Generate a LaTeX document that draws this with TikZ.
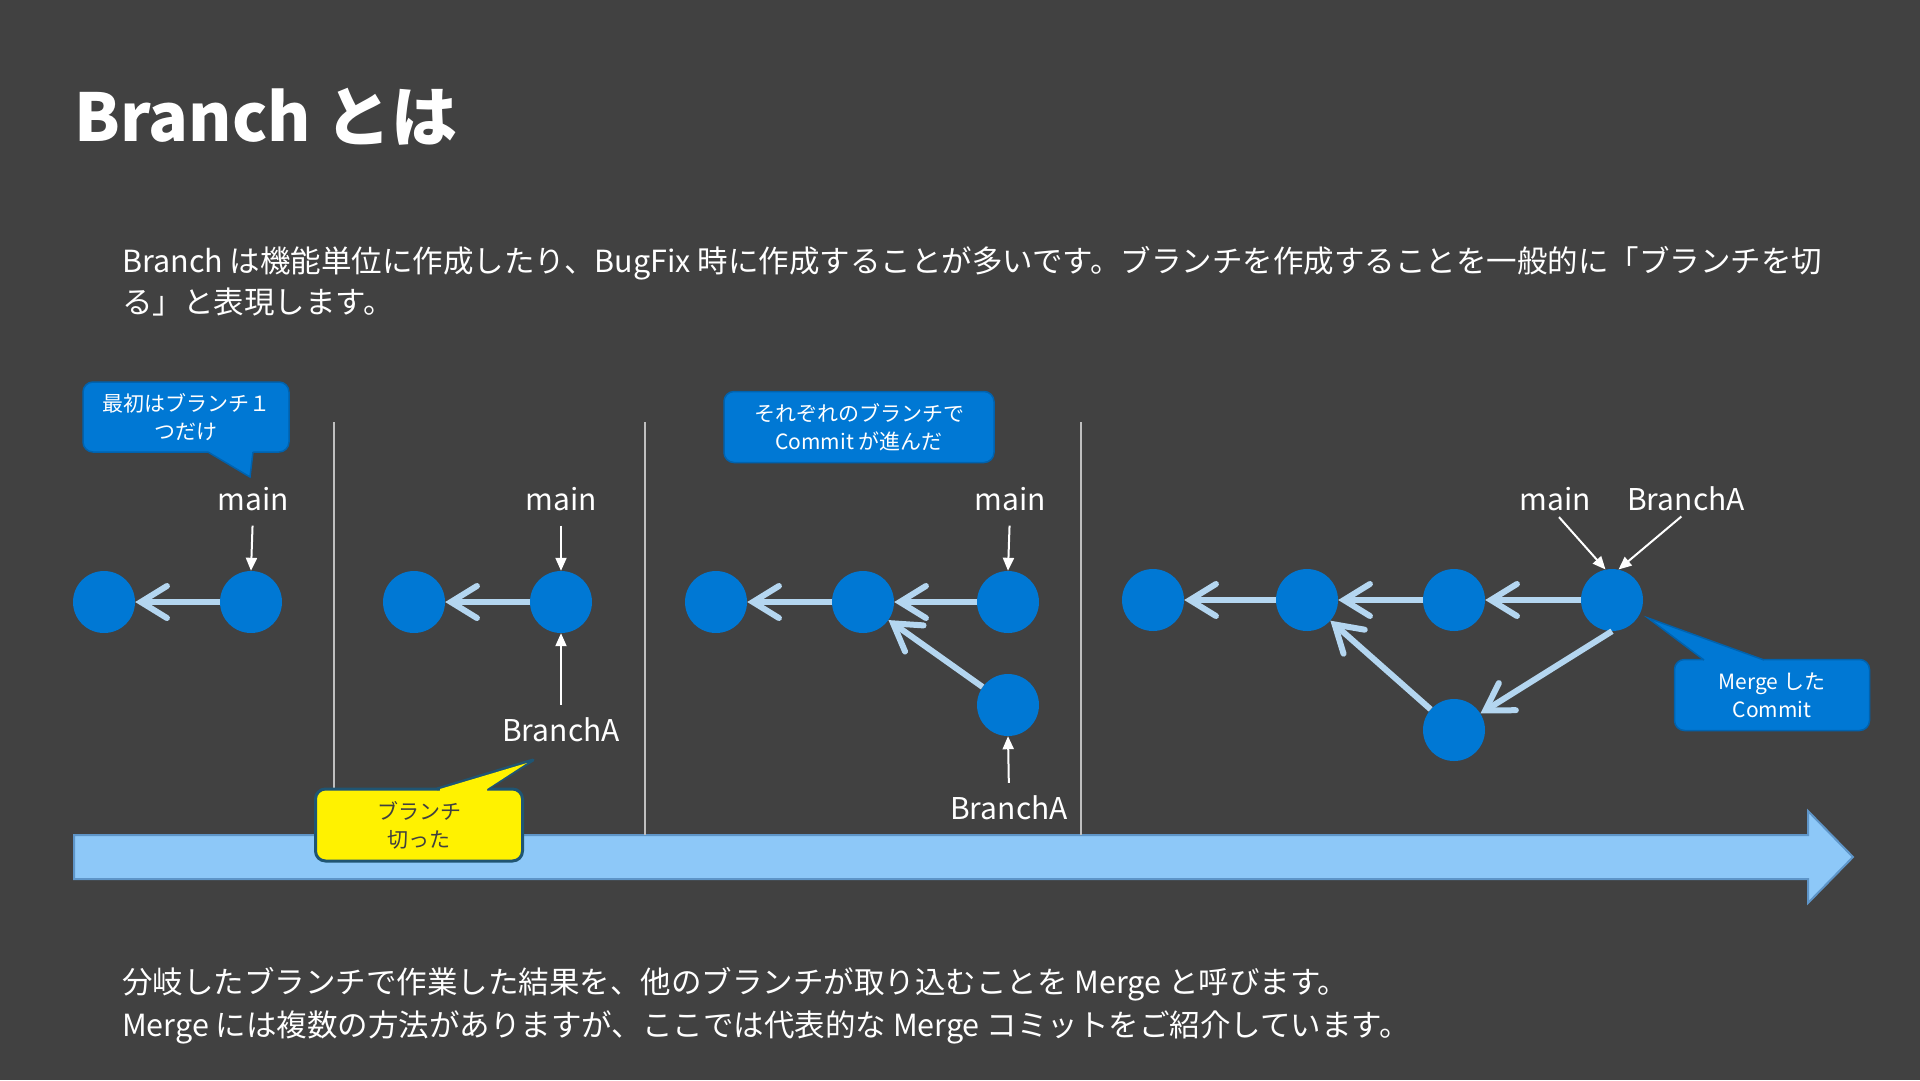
\documentclass[tikz,border=0pt]{standalone}
\usepackage{fontspec}
\setmainfont{Noto Sans CJK JP}
\usetikzlibrary{arrows.meta}
\definecolor{bg}{HTML}{414141}
\definecolor{cblue}{HTML}{0078D4}
\definecolor{cblueb}{HTML}{0062AE}
\definecolor{clink}{HTML}{B4D6F0}
\definecolor{tline}{HTML}{8DC8F8}
\definecolor{tlineb}{HTML}{5E95C8}
\definecolor{sepc}{HTML}{BFBFBF}
\definecolor{yelb}{HTML}{1F5573}
\definecolor{ytext}{HTML}{404040}
\begin{document}
\begin{tikzpicture}[x=1pt,y=-1pt,
  commit/.style={circle,fill=cblue,minimum size=62pt,inner sep=0pt},
  link/.style={draw=clink,line width=6pt,-{Straight Barb[length=26pt,width=32pt,line cap=round]}},
  ptr/.style={draw=white,line width=2pt,-{Triangle[length=13pt,width=11pt]}},
  lbl/.style={text=white,font=\fontsize{30}{36}\selectfont,inner sep=2pt,anchor=base},
  sepline/.style={draw=sepc,line width=1.5pt},
  bluebox/.style={fill=cblue,draw=cblueb,line width=1.5pt,rounded corners=10pt,text=white,align=center,inner sep=0pt,font=\fontsize{21}{28}\selectfont},
  yelbox/.style={fill=yellow,draw=yelb,line width=3pt,rounded corners=10pt,text=ytext,align=center,inner sep=0pt,font=\fontsize{21}{28}\selectfont},
  body/.style={text=white,anchor=base west,inner sep=0pt,font=\fontsize{30.5}{42}\selectfont}
]
\fill[bg] (0,0) rectangle (1920,1080);
\useasboundingbox (0,0) rectangle (1920,1080);

% title and texts
\node[text=white,anchor=base west,inner sep=0pt,font=\fontsize{66}{80}\selectfont\bfseries] (title) at (74,141) {Branch とは};
\node[body] (t1) at (122,272) {Branch は機能単位に作成したり、BugFix 時に作成することが多いです。ブランチを作成することを一般的に「ブランチを切};
\node[body] (t2) at (122,313) {る」と表現します。};
\node[body] (b1) at (122,993) {分岐したブランチで作業した結果を、他のブランチが取り込むことを Merge と呼びます。};
\node[body] (b2) at (122,1036) {Merge には複数の方法がありますが、ここでは代表的な Merge コミットをご紹介しています。};

% timeline
\filldraw[fill=tline,draw=tlineb,line width=2pt] (74,835) -- (1808,835) -- (1808,811) -- (1853,857) -- (1808,903) -- (1808,879) -- (74,879) -- cycle;

% separators
\draw[sepline] (334,422) -- (334,835);
\draw[sepline] (645,422) -- (645,835);
\draw[sepline] (1081,422) -- (1081,835);

% section 1
\node[commit] (a1) at (104,602) {};
\node[commit] (a2) at (251,602) {};
\draw[link] (a2) -- (a1);
\node[lbl] (am) at (253,510) {main};
\draw[ptr,shorten <=13pt] (am.south) -- (a2.north);

% section 2
\node[commit] (b1c) at (414,602) {};
\node[commit] (b2c) at (561,602) {};
\draw[link] (b2c) -- (b1c);
\node[lbl] (bm) at (561,510) {main};
\draw[ptr,shorten <=13pt] (bm.south) -- (b2c.north);
\node[lbl] (bb) at (561,741) {BranchA};
\draw[ptr,shorten <=10pt] (bb.north) -- (b2c.south);

% section 3
\node[commit] (c1) at (716,602) {};
\node[commit] (c2) at (863,602) {};
\node[commit] (c3) at (1008,602) {};
\node[commit] (c4) at (1008,705) {};
\draw[link] (c2) -- (c1);
\draw[link] (c3) -- (c2);
\draw[link] (c4) -- (c2);
\node[lbl] (cm) at (1010,510) {main};
\draw[ptr,shorten <=13pt] (cm.south) -- (c3.north);
\node[lbl] (cb) at (1009,819) {BranchA};
\draw[ptr,shorten <=10pt] (cb.north) -- (c4.south);

% section 4
\node[commit] (d1) at (1153,600) {};
\node[commit] (d2) at (1307,600) {};
\node[commit] (d3) at (1454,600) {};
\node[commit] (d4) at (1612,600) {};
\node[commit] (d5) at (1454,730) {};
\draw[link] (d2) -- (d1);
\draw[link] (d3) -- (d2);
\draw[link] (d4) -- (d3);
\draw[link] (d4.south) -- (d5);
\draw[link] (d5) -- (d2);
\node[lbl] (dm) at (1555,510) {main};
\node[lbl] (db) at (1686,510) {BranchA};
\draw[ptr,shorten <=6pt] (dm.south) -- (d4.102);
\draw[ptr,shorten <=6pt] (db.south) -- (d4.78);

% callout 1
\node[bluebox,minimum width=206pt,minimum height=70pt] (k1) at (186,417) {最初はブランチ１\\つだけ};
\fill[cblue] (208,452) -- (250,477) -- (253,452) -- (253,448) -- (208,448) -- cycle;
\draw[cblueb,line width=1.5pt,line join=miter] (208,452) -- (250,477) -- (253,452);

% callout 3
\node[bluebox,minimum width=270pt,minimum height=71pt] (k3) at (859,427) {それぞれのブランチで\\Commit が進んだ};

% yellow callout
\node[yelbox,minimum width=207pt,minimum height=72pt] (ky) at (419,825) {ブランチ\\切った};
\draw[yelb,line width=3pt,line join=round] (437,789) -- (533,760) -- (487,789);
\fill[yellow] (440,789) -- (527,763) -- (487,789) -- (487,793) -- (440,793) -- cycle;

% merge callout
\node[bluebox,minimum width=195pt,minimum height=71pt] (km) at (1772,695) {Merge した\\Commit};
\fill[cblue] (1704,660) -- (1648,618) -- (1764,660) -- (1764,664) -- (1704,664) -- cycle;
\draw[cblueb,line width=1.5pt] (1704,660) -- (1648,618) -- (1764,660);
\end{tikzpicture}
\end{document}
